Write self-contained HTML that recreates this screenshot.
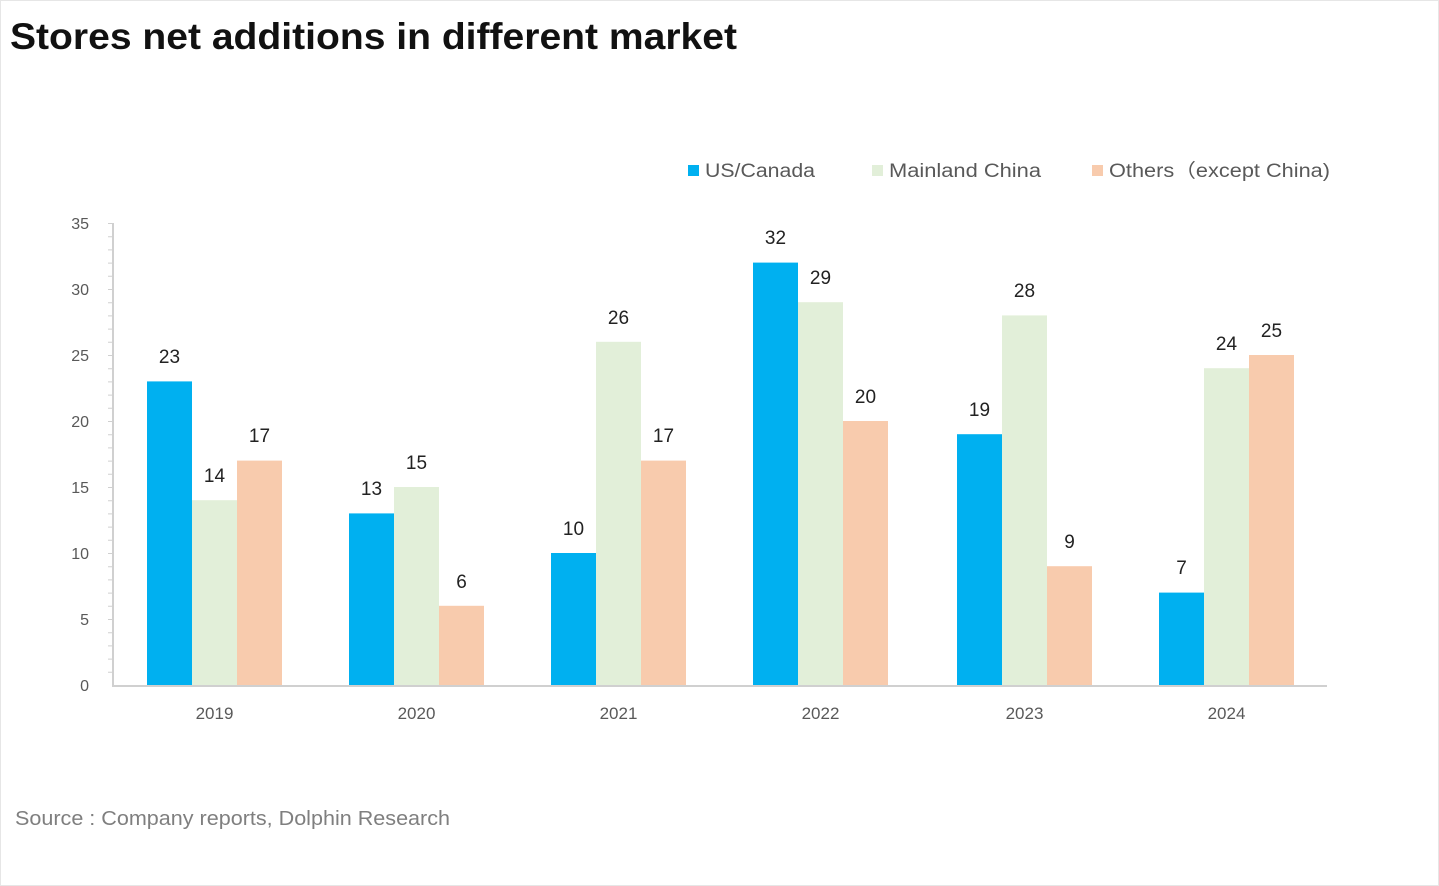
<!DOCTYPE html>
<html><head><meta charset="utf-8"><style>
html,body{margin:0;padding:0;background:#fff;}
svg{display:block;font-family:"Liberation Sans","Noto Sans CJK SC",sans-serif;}
</style></head><body>
<svg width="1439" height="886" viewBox="0 0 1439 886" xmlns="http://www.w3.org/2000/svg">
<rect x="0.5" y="0.5" width="1438" height="885" fill="#fff" stroke="#e6e6e6"/>
<text x="10" y="49" font-size="37" font-weight="bold" fill="#111" textLength="727" lengthAdjust="spacingAndGlyphs">Stores net additions in different market</text>
<!-- legend -->
<rect x="688" y="165" width="11" height="11" fill="#00b0f0"/>
<text x="705" y="177" font-size="19" fill="#595959" textLength="110" lengthAdjust="spacingAndGlyphs">US/Canada</text>
<rect x="872" y="165" width="11" height="11" fill="#e2efd9"/>
<text x="889" y="177" font-size="19" fill="#595959" textLength="152" lengthAdjust="spacingAndGlyphs">Mainland China</text>
<rect x="1092" y="165" width="11" height="11" fill="#f8cbad"/>
<text x="1109" y="177" font-size="19" fill="#595959" textLength="221" lengthAdjust="spacingAndGlyphs">Others（except China)</text>
<!-- axes -->
<g stroke="#d0d0d0" stroke-width="2">
<line x1="113" y1="223" x2="113" y2="686"/>
<line x1="112" y1="686" x2="1327" y2="686"/>
</g>
<g stroke="#d0d0d0" stroke-width="1">
<path d="M108 223.5h5M108 236.7h5M108 249.9h5M108 263.1h5M108 276.3h5M108 289.5h5M108 302.7h5M108 315.9h5M108 329.1h5M108 342.3h5M108 355.5h5M108 368.7h5M108 381.9h5M108 395.1h5M108 408.3h5M108 421.5h5M108 434.7h5M108 447.9h5M108 461.1h5M108 474.3h5M108 487.5h5M108 500.7h5M108 513.9h5M108 527.1h5M108 540.3h5M108 553.5h5M108 566.7h5M108 579.9h5M108 593.1h5M108 606.3h5M108 619.5h5M108 632.7h5M108 645.9h5M108 659.1h5M108 672.3h5"/>
</g>
<g font-size="16" fill="#595959" text-anchor="end">
<text x="89" y="229">35</text><text x="89" y="295">30</text><text x="89" y="361">25</text>
<text x="89" y="427">20</text><text x="89" y="493">15</text><text x="89" y="559">10</text>
<text x="89" y="625">5</text><text x="89" y="691">0</text>
</g>
<!-- bars -->
<g fill="#00b0f0">
<rect x="147" y="381.4" width="45" height="303.6"/>
<rect x="349" y="513.4" width="45" height="171.6"/>
<rect x="551" y="553" width="45" height="132"/>
<rect x="753" y="262.6" width="45" height="422.4"/>
<rect x="957" y="434.2" width="45" height="250.8"/>
<rect x="1159" y="592.6" width="45" height="92.4"/>
</g>
<g fill="#e2efd9">
<rect x="192" y="500.2" width="45" height="184.8"/>
<rect x="394" y="487" width="45" height="198"/>
<rect x="596" y="341.8" width="45" height="343.2"/>
<rect x="798" y="302.2" width="45" height="382.8"/>
<rect x="1002" y="315.4" width="45" height="369.6"/>
<rect x="1204" y="368.2" width="45" height="316.8"/>
</g>
<g fill="#f8cbad">
<rect x="237" y="460.6" width="45" height="224.4"/>
<rect x="439" y="605.8" width="45" height="79.2"/>
<rect x="641" y="460.6" width="45" height="224.4"/>
<rect x="843" y="421" width="45" height="264"/>
<rect x="1047" y="566.2" width="45" height="118.8"/>
<rect x="1249" y="355" width="45" height="330"/>
</g>
<!-- value labels -->
<g font-size="19" fill="#222" text-anchor="middle">
<text x="169.5" y="363">23</text><text x="214.5" y="482">14</text><text x="259.5" y="442">17</text>
<text x="371.5" y="495">13</text><text x="416.5" y="469">15</text><text x="461.5" y="588">6</text>
<text x="573.5" y="535">10</text><text x="618.5" y="324">26</text><text x="663.5" y="442">17</text>
<text x="775.5" y="244">32</text><text x="820.5" y="284">29</text><text x="865.5" y="403">20</text>
<text x="979.5" y="416">19</text><text x="1024.5" y="297">28</text><text x="1069.5" y="548">9</text>
<text x="1181.5" y="574">7</text><text x="1226.5" y="350">24</text><text x="1271.5" y="337">25</text>
</g>
<g font-size="17" fill="#595959" text-anchor="middle">
<text x="214.5" y="719">2019</text><text x="416.5" y="719">2020</text><text x="618.5" y="719">2021</text>
<text x="820.5" y="719">2022</text><text x="1024.5" y="719">2023</text><text x="1226.5" y="719">2024</text>
</g>
<text x="15" y="825" font-size="20" fill="#7f7f7f" textLength="435" lengthAdjust="spacingAndGlyphs">Source : Company reports, Dolphin Research</text>
</svg>
</body></html>
